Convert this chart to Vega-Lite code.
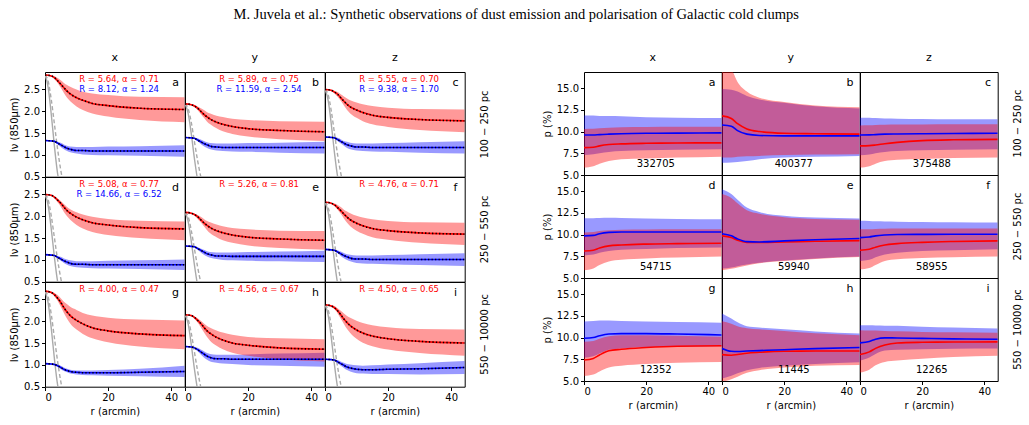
{
"$schema":"https://vega.github.io/schema/vega-lite/v6.json",
"padding":{"left":9,"top":6,"right":3,"bottom":5},
"background":"white",
"title":{"text":"M. Juvela et al.: Synthetic observations of dust emission and polarisation of Galactic cold clumps","font":"Liberation Serif","fontSize":14.5,"fontWeight":"normal","anchor":"middle","color":"black","offset":30},
"spacing":52,
"hconcat":[
{
"data":{"values":[
{"p":"a","s":"r","r":0,"m":2.83,"lo":2.82,"hi":2.84},{"p":"a","s":"r","r":2,"m":2.81,"lo":2.79,"hi":2.82},{"p":"a","s":"r","r":3,"m":2.77,"lo":2.73,"hi":2.80},{"p":"a","s":"r","r":4,"m":2.70,"lo":2.65,"hi":2.76},{"p":"a","s":"r","r":5,"m":2.62,"lo":2.54,"hi":2.71},{"p":"a","s":"r","r":6,"m":2.54,"lo":2.42,"hi":2.65},{"p":"a","s":"r","r":7,"m":2.46,"lo":2.31,"hi":2.60},{"p":"a","s":"r","r":8,"m":2.40,"lo":2.23,"hi":2.56},{"p":"a","s":"r","r":10,"m":2.31,"lo":2.11,"hi":2.50},{"p":"a","s":"r","r":12,"m":2.25,"lo":2.03,"hi":2.45},{"p":"a","s":"r","r":15,"m":2.18,"lo":1.95,"hi":2.41},{"p":"a","s":"r","r":20,"m":2.13,"lo":1.88,"hi":2.37},{"p":"a","s":"r","r":30,"m":2.07,"lo":1.80,"hi":2.33},{"p":"a","s":"r","r":44.3,"m":2.04,"lo":1.75,"hi":2.32},
{"p":"a","s":"b","r":0,"m":1.33,"lo":1.32,"hi":1.34},{"p":"a","s":"b","r":2,"m":1.32,"lo":1.31,"hi":1.34},{"p":"a","s":"b","r":3,"m":1.31,"lo":1.29,"hi":1.33},{"p":"a","s":"b","r":4,"m":1.27,"lo":1.24,"hi":1.30},{"p":"a","s":"b","r":5,"m":1.23,"lo":1.18,"hi":1.28},{"p":"a","s":"b","r":6,"m":1.19,"lo":1.13,"hi":1.24},{"p":"a","s":"b","r":7,"m":1.15,"lo":1.09,"hi":1.21},{"p":"a","s":"b","r":8,"m":1.13,"lo":1.06,"hi":1.19},{"p":"a","s":"b","r":10,"m":1.10,"lo":1.03,"hi":1.18},{"p":"a","s":"b","r":12,"m":1.10,"lo":1.01,"hi":1.18},{"p":"a","s":"b","r":15,"m":1.09,"lo":1.00,"hi":1.18},{"p":"a","s":"b","r":20,"m":1.09,"lo":0.99,"hi":1.19},{"p":"a","s":"b","r":30,"m":1.09,"lo":0.98,"hi":1.20},{"p":"a","s":"b","r":44.3,"m":1.09,"lo":0.96,"hi":1.22},
{"p":"b","s":"r","r":0,"m":2.17,"lo":2.17,"hi":2.17},{"p":"b","s":"r","r":2,"m":2.15,"lo":2.14,"hi":2.16},{"p":"b","s":"r","r":3,"m":2.12,"lo":2.09,"hi":2.15},{"p":"b","s":"r","r":4,"m":2.07,"lo":2.03,"hi":2.11},{"p":"b","s":"r","r":5,"m":2.00,"lo":1.94,"hi":2.07},{"p":"b","s":"r","r":6,"m":1.93,"lo":1.85,"hi":2.03},{"p":"b","s":"r","r":7,"m":1.87,"lo":1.76,"hi":1.98},{"p":"b","s":"r","r":8,"m":1.82,"lo":1.70,"hi":1.95},{"p":"b","s":"r","r":10,"m":1.75,"lo":1.61,"hi":1.90},{"p":"b","s":"r","r":12,"m":1.70,"lo":1.54,"hi":1.87},{"p":"b","s":"r","r":15,"m":1.65,"lo":1.48,"hi":1.83},{"p":"b","s":"r","r":20,"m":1.60,"lo":1.42,"hi":1.80},{"p":"b","s":"r","r":30,"m":1.56,"lo":1.36,"hi":1.77},{"p":"b","s":"r","r":44.3,"m":1.53,"lo":1.32,"hi":1.76},
{"p":"b","s":"b","r":0,"m":1.40,"lo":1.39,"hi":1.41},{"p":"b","s":"b","r":2,"m":1.39,"lo":1.38,"hi":1.41},{"p":"b","s":"b","r":3,"m":1.38,"lo":1.36,"hi":1.40},{"p":"b","s":"b","r":4,"m":1.34,"lo":1.31,"hi":1.38},{"p":"b","s":"b","r":5,"m":1.30,"lo":1.25,"hi":1.35},{"p":"b","s":"b","r":6,"m":1.26,"lo":1.20,"hi":1.32},{"p":"b","s":"b","r":7,"m":1.23,"lo":1.16,"hi":1.29},{"p":"b","s":"b","r":8,"m":1.20,"lo":1.13,"hi":1.27},{"p":"b","s":"b","r":10,"m":1.18,"lo":1.10,"hi":1.26},{"p":"b","s":"b","r":12,"m":1.17,"lo":1.09,"hi":1.26},{"p":"b","s":"b","r":15,"m":1.17,"lo":1.08,"hi":1.26},{"p":"b","s":"b","r":20,"m":1.17,"lo":1.07,"hi":1.27},{"p":"b","s":"b","r":30,"m":1.17,"lo":1.05,"hi":1.28},{"p":"b","s":"b","r":44.3,"m":1.17,"lo":1.03,"hi":1.30},
{"p":"c","s":"r","r":0,"m":2.50,"lo":2.49,"hi":2.51},{"p":"c","s":"r","r":2,"m":2.48,"lo":2.46,"hi":2.49},{"p":"c","s":"r","r":3,"m":2.44,"lo":2.41,"hi":2.47},{"p":"c","s":"r","r":4,"m":2.39,"lo":2.33,"hi":2.44},{"p":"c","s":"r","r":5,"m":2.31,"lo":2.24,"hi":2.39},{"p":"c","s":"r","r":6,"m":2.23,"lo":2.13,"hi":2.34},{"p":"c","s":"r","r":7,"m":2.16,"lo":2.03,"hi":2.29},{"p":"c","s":"r","r":8,"m":2.10,"lo":1.95,"hi":2.25},{"p":"c","s":"r","r":10,"m":2.03,"lo":1.85,"hi":2.20},{"p":"c","s":"r","r":12,"m":1.97,"lo":1.77,"hi":2.16},{"p":"c","s":"r","r":15,"m":1.91,"lo":1.70,"hi":2.12},{"p":"c","s":"r","r":20,"m":1.86,"lo":1.64,"hi":2.08},{"p":"c","s":"r","r":30,"m":1.81,"lo":1.57,"hi":2.05},{"p":"c","s":"r","r":44.3,"m":1.78,"lo":1.52,"hi":2.04},
{"p":"c","s":"b","r":0,"m":1.41,"lo":1.40,"hi":1.42},{"p":"c","s":"b","r":2,"m":1.40,"lo":1.39,"hi":1.42},{"p":"c","s":"b","r":3,"m":1.39,"lo":1.37,"hi":1.41},{"p":"c","s":"b","r":4,"m":1.35,"lo":1.32,"hi":1.39},{"p":"c","s":"b","r":5,"m":1.31,"lo":1.26,"hi":1.36},{"p":"c","s":"b","r":6,"m":1.27,"lo":1.21,"hi":1.32},{"p":"c","s":"b","r":7,"m":1.23,"lo":1.16,"hi":1.30},{"p":"c","s":"b","r":8,"m":1.21,"lo":1.13,"hi":1.28},{"p":"c","s":"b","r":10,"m":1.18,"lo":1.10,"hi":1.26},{"p":"c","s":"b","r":12,"m":1.18,"lo":1.09,"hi":1.26},{"p":"c","s":"b","r":15,"m":1.17,"lo":1.08,"hi":1.26},{"p":"c","s":"b","r":20,"m":1.17,"lo":1.07,"hi":1.27},{"p":"c","s":"b","r":30,"m":1.17,"lo":1.05,"hi":1.29},{"p":"c","s":"b","r":44.3,"m":1.17,"lo":1.03,"hi":1.31},
{"p":"d","s":"r","r":0,"m":2.50,"lo":2.49,"hi":2.50},{"p":"d","s":"r","r":2,"m":2.48,"lo":2.46,"hi":2.49},{"p":"d","s":"r","r":3,"m":2.44,"lo":2.41,"hi":2.46},{"p":"d","s":"r","r":4,"m":2.37,"lo":2.32,"hi":2.41},{"p":"d","s":"r","r":5,"m":2.30,"lo":2.22,"hi":2.35},{"p":"d","s":"r","r":6,"m":2.21,"lo":2.10,"hi":2.28},{"p":"d","s":"r","r":7,"m":2.13,"lo":2.00,"hi":2.21},{"p":"d","s":"r","r":8,"m":2.07,"lo":1.92,"hi":2.16},{"p":"d","s":"r","r":10,"m":1.98,"lo":1.80,"hi":2.09},{"p":"d","s":"r","r":12,"m":1.92,"lo":1.72,"hi":2.04},{"p":"d","s":"r","r":15,"m":1.85,"lo":1.64,"hi":1.99},{"p":"d","s":"r","r":20,"m":1.80,"lo":1.57,"hi":1.94},{"p":"d","s":"r","r":30,"m":1.74,"lo":1.50,"hi":1.90},{"p":"d","s":"r","r":44.3,"m":1.71,"lo":1.45,"hi":1.88},
{"p":"d","s":"b","r":0,"m":1.12,"lo":1.11,"hi":1.13},{"p":"d","s":"b","r":2,"m":1.11,"lo":1.10,"hi":1.13},{"p":"d","s":"b","r":3,"m":1.10,"lo":1.08,"hi":1.12},{"p":"d","s":"b","r":4,"m":1.06,"lo":1.03,"hi":1.09},{"p":"d","s":"b","r":5,"m":1.02,"lo":0.98,"hi":1.07},{"p":"d","s":"b","r":6,"m":0.98,"lo":0.93,"hi":1.03},{"p":"d","s":"b","r":7,"m":0.95,"lo":0.89,"hi":1.01},{"p":"d","s":"b","r":8,"m":0.92,"lo":0.86,"hi":0.99},{"p":"d","s":"b","r":10,"m":0.90,"lo":0.83,"hi":0.97},{"p":"d","s":"b","r":12,"m":0.90,"lo":0.82,"hi":0.97},{"p":"d","s":"b","r":15,"m":0.89,"lo":0.81,"hi":0.97},{"p":"d","s":"b","r":20,"m":0.89,"lo":0.80,"hi":0.98},{"p":"d","s":"b","r":30,"m":0.89,"lo":0.79,"hi":0.99},{"p":"d","s":"b","r":44.3,"m":0.89,"lo":0.77,"hi":1.01},
{"p":"e","s":"r","r":0,"m":2.09,"lo":2.09,"hi":2.09},{"p":"e","s":"r","r":2,"m":2.07,"lo":2.06,"hi":2.08},{"p":"e","s":"r","r":3,"m":2.04,"lo":2.01,"hi":2.06},{"p":"e","s":"r","r":4,"m":1.99,"lo":1.94,"hi":2.03},{"p":"e","s":"r","r":5,"m":1.92,"lo":1.86,"hi":1.99},{"p":"e","s":"r","r":6,"m":1.85,"lo":1.77,"hi":1.94},{"p":"e","s":"r","r":7,"m":1.79,"lo":1.68,"hi":1.89},{"p":"e","s":"r","r":8,"m":1.74,"lo":1.61,"hi":1.86},{"p":"e","s":"r","r":10,"m":1.67,"lo":1.52,"hi":1.81},{"p":"e","s":"r","r":12,"m":1.62,"lo":1.45,"hi":1.77},{"p":"e","s":"r","r":15,"m":1.57,"lo":1.39,"hi":1.73},{"p":"e","s":"r","r":20,"m":1.52,"lo":1.33,"hi":1.70},{"p":"e","s":"r","r":30,"m":1.48,"lo":1.27,"hi":1.67},{"p":"e","s":"r","r":44.3,"m":1.45,"lo":1.23,"hi":1.66},
{"p":"e","s":"b","r":0,"m":1.32,"lo":1.31,"hi":1.33},{"p":"e","s":"b","r":2,"m":1.31,"lo":1.30,"hi":1.33},{"p":"e","s":"b","r":3,"m":1.30,"lo":1.28,"hi":1.32},{"p":"e","s":"b","r":4,"m":1.26,"lo":1.23,"hi":1.29},{"p":"e","s":"b","r":5,"m":1.22,"lo":1.17,"hi":1.26},{"p":"e","s":"b","r":6,"m":1.18,"lo":1.12,"hi":1.23},{"p":"e","s":"b","r":7,"m":1.14,"lo":1.08,"hi":1.20},{"p":"e","s":"b","r":8,"m":1.12,"lo":1.05,"hi":1.18},{"p":"e","s":"b","r":10,"m":1.09,"lo":1.02,"hi":1.17},{"p":"e","s":"b","r":12,"m":1.09,"lo":1.00,"hi":1.17},{"p":"e","s":"b","r":15,"m":1.08,"lo":0.99,"hi":1.17},{"p":"e","s":"b","r":20,"m":1.08,"lo":0.98,"hi":1.18},{"p":"e","s":"b","r":30,"m":1.08,"lo":0.97,"hi":1.19},{"p":"e","s":"b","r":44.3,"m":1.08,"lo":0.95,"hi":1.21},
{"p":"f","s":"r","r":0,"m":2.32,"lo":2.32,"hi":2.33},{"p":"f","s":"r","r":2,"m":2.30,"lo":2.28,"hi":2.31},{"p":"f","s":"r","r":3,"m":2.26,"lo":2.23,"hi":2.29},{"p":"f","s":"r","r":4,"m":2.20,"lo":2.15,"hi":2.26},{"p":"f","s":"r","r":5,"m":2.13,"lo":2.06,"hi":2.21},{"p":"f","s":"r","r":6,"m":2.05,"lo":1.95,"hi":2.15},{"p":"f","s":"r","r":7,"m":1.98,"lo":1.85,"hi":2.11},{"p":"f","s":"r","r":8,"m":1.92,"lo":1.77,"hi":2.07},{"p":"f","s":"r","r":10,"m":1.84,"lo":1.67,"hi":2.01},{"p":"f","s":"r","r":12,"m":1.78,"lo":1.60,"hi":1.97},{"p":"f","s":"r","r":15,"m":1.72,"lo":1.52,"hi":1.93},{"p":"f","s":"r","r":20,"m":1.67,"lo":1.46,"hi":1.89},{"p":"f","s":"r","r":30,"m":1.62,"lo":1.39,"hi":1.86},{"p":"f","s":"r","r":44.3,"m":1.59,"lo":1.34,"hi":1.85},
{"p":"f","s":"b","r":0,"m":1.24,"lo":1.23,"hi":1.25},{"p":"f","s":"b","r":2,"m":1.23,"lo":1.22,"hi":1.25},{"p":"f","s":"b","r":3,"m":1.22,"lo":1.19,"hi":1.24},{"p":"f","s":"b","r":4,"m":1.18,"lo":1.15,"hi":1.22},{"p":"f","s":"b","r":5,"m":1.14,"lo":1.09,"hi":1.19},{"p":"f","s":"b","r":6,"m":1.10,"lo":1.04,"hi":1.16},{"p":"f","s":"b","r":7,"m":1.07,"lo":1.00,"hi":1.13},{"p":"f","s":"b","r":8,"m":1.04,"lo":0.97,"hi":1.12},{"p":"f","s":"b","r":10,"m":1.02,"lo":0.93,"hi":1.10},{"p":"f","s":"b","r":12,"m":1.02,"lo":0.92,"hi":1.10},{"p":"f","s":"b","r":15,"m":1.01,"lo":0.91,"hi":1.10},{"p":"f","s":"b","r":20,"m":1.01,"lo":0.90,"hi":1.11},{"p":"f","s":"b","r":30,"m":1.01,"lo":0.88,"hi":1.13},{"p":"f","s":"b","r":44.3,"m":1.01,"lo":0.86,"hi":1.15},
{"p":"g","s":"r","r":0,"m":2.69,"lo":2.68,"hi":2.70},{"p":"g","s":"r","r":2,"m":2.66,"lo":2.64,"hi":2.68},{"p":"g","s":"r","r":3,"m":2.61,"lo":2.57,"hi":2.65},{"p":"g","s":"r","r":4,"m":2.53,"lo":2.47,"hi":2.60},{"p":"g","s":"r","r":5,"m":2.43,"lo":2.33,"hi":2.53},{"p":"g","s":"r","r":6,"m":2.31,"lo":2.19,"hi":2.45},{"p":"g","s":"r","r":7,"m":2.21,"lo":2.06,"hi":2.39},{"p":"g","s":"r","r":8,"m":2.13,"lo":1.95,"hi":2.33},{"p":"g","s":"r","r":10,"m":2.02,"lo":1.81,"hi":2.26},{"p":"g","s":"r","r":12,"m":1.94,"lo":1.71,"hi":2.19},{"p":"g","s":"r","r":15,"m":1.85,"lo":1.61,"hi":2.13},{"p":"g","s":"r","r":20,"m":1.78,"lo":1.52,"hi":2.08},{"p":"g","s":"r","r":30,"m":1.71,"lo":1.42,"hi":2.04},{"p":"g","s":"r","r":44.3,"m":1.67,"lo":1.36,"hi":2.02},
{"p":"g","s":"b","r":0,"m":1.03,"lo":1.02,"hi":1.04},{"p":"g","s":"b","r":2,"m":1.02,"lo":1.01,"hi":1.03},{"p":"g","s":"b","r":3,"m":1.01,"lo":0.99,"hi":1.03},{"p":"g","s":"b","r":4,"m":0.98,"lo":0.95,"hi":1.01},{"p":"g","s":"b","r":5,"m":0.94,"lo":0.90,"hi":0.98},{"p":"g","s":"b","r":6,"m":0.90,"lo":0.86,"hi":0.94},{"p":"g","s":"b","r":7,"m":0.87,"lo":0.83,"hi":0.91},{"p":"g","s":"b","r":8,"m":0.85,"lo":0.80,"hi":0.89},{"p":"g","s":"b","r":10,"m":0.83,"lo":0.78,"hi":0.87},{"p":"g","s":"b","r":12,"m":0.82,"lo":0.77,"hi":0.87},{"p":"g","s":"b","r":15,"m":0.82,"lo":0.76,"hi":0.87},{"p":"g","s":"b","r":20,"m":0.82,"lo":0.75,"hi":0.88},{"p":"g","s":"b","r":30,"m":0.83,"lo":0.74,"hi":0.91},{"p":"g","s":"b","r":44.3,"m":0.85,"lo":0.72,"hi":0.98},
{"p":"h","s":"r","r":0,"m":2.15,"lo":2.14,"hi":2.15},{"p":"h","s":"r","r":2,"m":2.13,"lo":2.11,"hi":2.14},{"p":"h","s":"r","r":3,"m":2.09,"lo":2.05,"hi":2.11},{"p":"h","s":"r","r":4,"m":2.02,"lo":1.97,"hi":2.07},{"p":"h","s":"r","r":5,"m":1.95,"lo":1.86,"hi":2.01},{"p":"h","s":"r","r":6,"m":1.86,"lo":1.75,"hi":1.95},{"p":"h","s":"r","r":7,"m":1.78,"lo":1.64,"hi":1.89},{"p":"h","s":"r","r":8,"m":1.72,"lo":1.55,"hi":1.85},{"p":"h","s":"r","r":10,"m":1.63,"lo":1.44,"hi":1.79},{"p":"h","s":"r","r":12,"m":1.57,"lo":1.36,"hi":1.74},{"p":"h","s":"r","r":15,"m":1.50,"lo":1.28,"hi":1.69},{"p":"h","s":"r","r":20,"m":1.45,"lo":1.21,"hi":1.64},{"p":"h","s":"r","r":30,"m":1.39,"lo":1.13,"hi":1.61},{"p":"h","s":"r","r":44.3,"m":1.36,"lo":1.08,"hi":1.59},
{"p":"h","s":"b","r":0,"m":1.42,"lo":1.41,"hi":1.43},{"p":"h","s":"b","r":2,"m":1.41,"lo":1.39,"hi":1.43},{"p":"h","s":"b","r":3,"m":1.39,"lo":1.37,"hi":1.41},{"p":"h","s":"b","r":4,"m":1.35,"lo":1.31,"hi":1.39},{"p":"h","s":"b","r":5,"m":1.30,"lo":1.24,"hi":1.35},{"p":"h","s":"b","r":6,"m":1.25,"lo":1.17,"hi":1.31},{"p":"h","s":"b","r":7,"m":1.20,"lo":1.12,"hi":1.27},{"p":"h","s":"b","r":8,"m":1.17,"lo":1.08,"hi":1.25},{"p":"h","s":"b","r":10,"m":1.14,"lo":1.05,"hi":1.23},{"p":"h","s":"b","r":12,"m":1.14,"lo":1.03,"hi":1.23},{"p":"h","s":"b","r":15,"m":1.13,"lo":1.02,"hi":1.23},{"p":"h","s":"b","r":20,"m":1.13,"lo":1.00,"hi":1.24},{"p":"h","s":"b","r":30,"m":1.13,"lo":0.98,"hi":1.26},{"p":"h","s":"b","r":44.3,"m":1.13,"lo":0.96,"hi":1.28},
{"p":"i","s":"r","r":0,"m":2.38,"lo":2.37,"hi":2.39},{"p":"i","s":"r","r":2,"m":2.35,"lo":2.34,"hi":2.37},{"p":"i","s":"r","r":3,"m":2.31,"lo":2.28,"hi":2.35},{"p":"i","s":"r","r":4,"m":2.24,"lo":2.18,"hi":2.30},{"p":"i","s":"r","r":5,"m":2.15,"lo":2.06,"hi":2.24},{"p":"i","s":"r","r":6,"m":2.05,"lo":1.94,"hi":2.18},{"p":"i","s":"r","r":7,"m":1.97,"lo":1.82,"hi":2.12},{"p":"i","s":"r","r":8,"m":1.90,"lo":1.73,"hi":2.08},{"p":"i","s":"r","r":10,"m":1.80,"lo":1.60,"hi":2.01},{"p":"i","s":"r","r":12,"m":1.73,"lo":1.51,"hi":1.96},{"p":"i","s":"r","r":15,"m":1.66,"lo":1.43,"hi":1.91},{"p":"i","s":"r","r":20,"m":1.60,"lo":1.35,"hi":1.86},{"p":"i","s":"r","r":30,"m":1.54,"lo":1.27,"hi":1.82},{"p":"i","s":"r","r":44.3,"m":1.50,"lo":1.21,"hi":1.81},
{"p":"i","s":"b","r":0,"m":1.13,"lo":1.12,"hi":1.14},{"p":"i","s":"b","r":2,"m":1.12,"lo":1.11,"hi":1.14},{"p":"i","s":"b","r":3,"m":1.11,"lo":1.09,"hi":1.13},{"p":"i","s":"b","r":4,"m":1.07,"lo":1.03,"hi":1.11},{"p":"i","s":"b","r":5,"m":1.03,"lo":0.98,"hi":1.08},{"p":"i","s":"b","r":6,"m":0.99,"lo":0.93,"hi":1.05},{"p":"i","s":"b","r":7,"m":0.95,"lo":0.88,"hi":1.02},{"p":"i","s":"b","r":8,"m":0.93,"lo":0.85,"hi":1.01},{"p":"i","s":"b","r":10,"m":0.90,"lo":0.81,"hi":0.99},{"p":"i","s":"b","r":12,"m":0.89,"lo":0.80,"hi":0.98},{"p":"i","s":"b","r":15,"m":0.89,"lo":0.79,"hi":0.99},{"p":"i","s":"b","r":20,"m":0.90,"lo":0.79,"hi":1.01},{"p":"i","s":"b","r":30,"m":0.91,"lo":0.78,"hi":1.04},{"p":"i","s":"b","r":44.3,"m":0.94,"lo":0.79,"hi":1.09},
{"p":"a","s":"g1","r":0,"m":2.83},{"p":"a","s":"g1","r":1,"m":2.55},{"p":"a","s":"g1","r":2,"m":1.92},{"p":"a","s":"g1","r":3,"m":1.19},{"p":"a","s":"g1","r":4,"m":0.57},{"p":"a","s":"g1","r":5,"m":0.23},
{"p":"b","s":"g1","r":0,"m":2.17},{"p":"b","s":"g1","r":1,"m":1.95},{"p":"b","s":"g1","r":2,"m":1.48},{"p":"b","s":"g1","r":3,"m":0.91},{"p":"b","s":"g1","r":4,"m":0.43},{"p":"b","s":"g1","r":5,"m":0.17},
{"p":"c","s":"g1","r":0,"m":2.50},{"p":"c","s":"g1","r":1,"m":2.25},{"p":"c","s":"g1","r":2,"m":1.70},{"p":"c","s":"g1","r":3,"m":1.05},{"p":"c","s":"g1","r":4,"m":0.50},{"p":"c","s":"g1","r":5,"m":0.20},
{"p":"d","s":"g1","r":0,"m":2.50},{"p":"d","s":"g1","r":1,"m":2.25},{"p":"d","s":"g1","r":2,"m":1.70},{"p":"d","s":"g1","r":3,"m":1.05},{"p":"d","s":"g1","r":4,"m":0.50},{"p":"d","s":"g1","r":5,"m":0.20},
{"p":"e","s":"g1","r":0,"m":2.09},{"p":"e","s":"g1","r":1,"m":1.88},{"p":"e","s":"g1","r":2,"m":1.42},{"p":"e","s":"g1","r":3,"m":0.88},{"p":"e","s":"g1","r":4,"m":0.42},{"p":"e","s":"g1","r":5,"m":0.17},
{"p":"f","s":"g1","r":0,"m":2.32},{"p":"f","s":"g1","r":1,"m":2.09},{"p":"f","s":"g1","r":2,"m":1.58},{"p":"f","s":"g1","r":3,"m":0.97},{"p":"f","s":"g1","r":4,"m":0.46},{"p":"f","s":"g1","r":5,"m":0.19},
{"p":"g","s":"g1","r":0,"m":2.69},{"p":"g","s":"g1","r":1,"m":2.42},{"p":"g","s":"g1","r":2,"m":1.83},{"p":"g","s":"g1","r":3,"m":1.13},{"p":"g","s":"g1","r":4,"m":0.54},{"p":"g","s":"g1","r":5,"m":0.22},
{"p":"h","s":"g1","r":0,"m":2.15},{"p":"h","s":"g1","r":1,"m":1.94},{"p":"h","s":"g1","r":2,"m":1.46},{"p":"h","s":"g1","r":3,"m":0.90},{"p":"h","s":"g1","r":4,"m":0.43},{"p":"h","s":"g1","r":5,"m":0.17},
{"p":"i","s":"g1","r":0,"m":2.38},{"p":"i","s":"g1","r":1,"m":2.14},{"p":"i","s":"g1","r":2,"m":1.62},{"p":"i","s":"g1","r":3,"m":1.00},{"p":"i","s":"g1","r":4,"m":0.48},{"p":"i","s":"g1","r":5,"m":0.19},
{"p":"a","s":"g2","r":0,"m":2.83},{"p":"a","s":"g2","r":1,"m":2.69},{"p":"a","s":"g2","r":2,"m":2.26},{"p":"a","s":"g2","r":3,"m":1.70},{"p":"a","s":"g2","r":4,"m":1.13},{"p":"a","s":"g2","r":5,"m":0.65},{"p":"a","s":"g2","r":6,"m":0.28},
{"p":"b","s":"g2","r":0,"m":2.17},{"p":"b","s":"g2","r":1,"m":2.06},{"p":"b","s":"g2","r":2,"m":1.74},{"p":"b","s":"g2","r":3,"m":1.30},{"p":"b","s":"g2","r":4,"m":0.87},{"p":"b","s":"g2","r":5,"m":0.50},{"p":"b","s":"g2","r":6,"m":0.22},
{"p":"c","s":"g2","r":0,"m":2.50},{"p":"c","s":"g2","r":1,"m":2.38},{"p":"c","s":"g2","r":2,"m":2.00},{"p":"c","s":"g2","r":3,"m":1.50},{"p":"c","s":"g2","r":4,"m":1.00},{"p":"c","s":"g2","r":5,"m":0.58},{"p":"c","s":"g2","r":6,"m":0.25},
{"p":"d","s":"g2","r":0,"m":2.50},{"p":"d","s":"g2","r":1,"m":2.38},{"p":"d","s":"g2","r":2,"m":2.00},{"p":"d","s":"g2","r":3,"m":1.50},{"p":"d","s":"g2","r":4,"m":1.00},{"p":"d","s":"g2","r":5,"m":0.58},{"p":"d","s":"g2","r":6,"m":0.25},
{"p":"e","s":"g2","r":0,"m":2.09},{"p":"e","s":"g2","r":1,"m":1.99},{"p":"e","s":"g2","r":2,"m":1.67},{"p":"e","s":"g2","r":3,"m":1.25},{"p":"e","s":"g2","r":4,"m":0.84},{"p":"e","s":"g2","r":5,"m":0.48},{"p":"e","s":"g2","r":6,"m":0.21},
{"p":"f","s":"g2","r":0,"m":2.32},{"p":"f","s":"g2","r":1,"m":2.20},{"p":"f","s":"g2","r":2,"m":1.86},{"p":"f","s":"g2","r":3,"m":1.39},{"p":"f","s":"g2","r":4,"m":0.93},{"p":"f","s":"g2","r":5,"m":0.53},{"p":"f","s":"g2","r":6,"m":0.23},
{"p":"g","s":"g2","r":0,"m":2.69},{"p":"g","s":"g2","r":1,"m":2.56},{"p":"g","s":"g2","r":2,"m":2.15},{"p":"g","s":"g2","r":3,"m":1.61},{"p":"g","s":"g2","r":4,"m":1.08},{"p":"g","s":"g2","r":5,"m":0.62},{"p":"g","s":"g2","r":6,"m":0.27},
{"p":"h","s":"g2","r":0,"m":2.15},{"p":"h","s":"g2","r":1,"m":2.04},{"p":"h","s":"g2","r":2,"m":1.72},{"p":"h","s":"g2","r":3,"m":1.29},{"p":"h","s":"g2","r":4,"m":0.86},{"p":"h","s":"g2","r":5,"m":0.49},{"p":"h","s":"g2","r":6,"m":0.22},
{"p":"i","s":"g2","r":0,"m":2.38},{"p":"i","s":"g2","r":1,"m":2.26},{"p":"i","s":"g2","r":2,"m":1.90},{"p":"i","s":"g2","r":3,"m":1.43},{"p":"i","s":"g2","r":4,"m":0.95},{"p":"i","s":"g2","r":5,"m":0.55},{"p":"i","s":"g2","r":6,"m":0.24},
{"p":"a","s":"t","r":23.5,"m":2.73,"txt":"R = 5.64, α = 0.71","tc":"#ff0000"},{"p":"a","s":"t","r":23.5,"m":2.50,"txt":"R = 8.12, α = 1.24","tc":"#0000ff"},
{"p":"b","s":"t","r":23.5,"m":2.73,"txt":"R = 5.89, α = 0.75","tc":"#ff0000"},{"p":"b","s":"t","r":23.5,"m":2.50,"txt":"R = 11.59, α = 2.54","tc":"#0000ff"},
{"p":"c","s":"t","r":23.5,"m":2.73,"txt":"R = 5.55, α = 0.70","tc":"#ff0000"},{"p":"c","s":"t","r":23.5,"m":2.50,"txt":"R = 9.38, α = 1.70","tc":"#0000ff"},
{"p":"d","s":"t","r":23.5,"m":2.73,"txt":"R = 5.08, α = 0.77","tc":"#ff0000"},{"p":"d","s":"t","r":23.5,"m":2.50,"txt":"R = 14.66, α = 6.52","tc":"#0000ff"},
{"p":"e","s":"t","r":23.5,"m":2.73,"txt":"R = 5.26, α = 0.81","tc":"#ff0000"},
{"p":"f","s":"t","r":23.5,"m":2.73,"txt":"R = 4.76, α = 0.71","tc":"#ff0000"},
{"p":"g","s":"t","r":23.5,"m":2.73,"txt":"R = 4.00, α = 0.47","tc":"#ff0000"},
{"p":"h","s":"t","r":23.5,"m":2.73,"txt":"R = 4.56, α = 0.67","tc":"#ff0000"},
{"p":"i","s":"t","r":23.5,"m":2.73,"txt":"R = 4.50, α = 0.65","tc":"#ff0000"},
{"p":"a","s":"L","r":41.4,"m":2.65,"txt":"a"},{"p":"b","s":"L","r":41.4,"m":2.65,"txt":"b"},{"p":"c","s":"L","r":41.4,"m":2.65,"txt":"c"},{"p":"d","s":"L","r":41.4,"m":2.65,"txt":"d"},{"p":"e","s":"L","r":41.4,"m":2.65,"txt":"e"},{"p":"f","s":"L","r":41.4,"m":2.65,"txt":"f"},{"p":"g","s":"L","r":41.4,"m":2.65,"txt":"g"},{"p":"h","s":"L","r":41.4,"m":2.65,"txt":"h"},{"p":"i","s":"L","r":41.4,"m":2.65,"txt":"i"}
]},
"transform":[{"lookup":"p","from":{"data":{"values":[{"p":"a","c":"x","w":"100 − 250 pc"},{"p":"b","c":"y","w":"100 − 250 pc"},{"p":"c","c":"z","w":"100 − 250 pc"},{"p":"d","c":"x","w":"250 − 550 pc"},{"p":"e","c":"y","w":"250 − 550 pc"},{"p":"f","c":"z","w":"250 − 550 pc"},{"p":"g","c":"x","w":"550 − 10000 pc"},{"p":"h","c":"y","w":"550 − 10000 pc"},{"p":"i","c":"z","w":"550 − 10000 pc"}]},"key":"p","fields":["c","w"]}}],
"facet":{
"column":{"field":"c","type":"nominal","title":null,"header":{"labelFontSize":11,"labelPadding":9}},
"row":{"field":"w","type":"nominal","title":null,"header":{"labelOrient":"right","labelAngle":-90,"labelFontSize":10,"labelPadding":10}}
},
"spacing":{"row":0,"column":0},
"bounds":"flush",
"spec":{
"width":139.7,"height":104.7,
"encoding":{
"x":{"field":"r","type":"quantitative","scale":{"domain":[0,44.3],"nice":false,"zero":false},"axis":{"values":[0,20,40],"title":"r (arcmin)"}},
"y":{"field":"m","type":"quantitative","scale":{"domain":[0.5,2.9],"nice":false,"zero":false},"axis":{"values":[0.5,1,1.5,2,2.5],"format":".1f","title":"Iν (850μm)"}}
},
"layer":[
{"transform":[{"filter":"datum.s == 'b'"}],"mark":{"type":"area","color":"#0000ff","opacity":0.4,"interpolate":"monotone","clip":true},"encoding":{"y":{"field":"lo","type":"quantitative","scale":{"domain":[0.5,2.9],"nice":false,"zero":false},"axis":{"values":[0.5,1,1.5,2,2.5],"format":".1f","title":"Iν (850μm)"}},"y2":{"field":"hi"}}},
{"transform":[{"filter":"datum.s == 'r'"}],"mark":{"type":"area","color":"#ff0000","opacity":0.4,"interpolate":"monotone","clip":true},"encoding":{"y":{"field":"lo","type":"quantitative","scale":{"domain":[0.5,2.9],"nice":false,"zero":false},"axis":{"values":[0.5,1,1.5,2,2.5],"format":".1f","title":"Iν (850μm)"}},"y2":{"field":"hi"}}},
{"transform":[{"filter":"datum.s == 'g1'"}],"mark":{"type":"line","color":"#aaaaaa","strokeWidth":1.4,"interpolate":"monotone","clip":true},"encoding":{}},
{"transform":[{"filter":"datum.s == 'g2'"}],"mark":{"type":"line","color":"#aaaaaa","strokeWidth":1.4,"strokeDash":[4,2.5],"interpolate":"monotone","clip":true},"encoding":{}},
{"transform":[{"filter":"datum.s == 'r' || datum.s == 'b'"}],"mark":{"type":"line","strokeWidth":1.6,"interpolate":"monotone","clip":true},"encoding":{"color":{"field":"s","type":"nominal","scale":{"domain":["r","b"],"range":["#ff0000","#0000ff"]},"legend":null}}},
{"transform":[{"filter":"datum.s == 'r' || datum.s == 'b'"}],"mark":{"type":"line","color":"black","strokeWidth":1.6,"strokeDash":[1.3,2.2],"interpolate":"monotone","clip":true},"encoding":{"detail":{"field":"s","type":"nominal"}}},
{"transform":[{"filter":"datum.s == 't'"}],"mark":{"type":"text","fontSize":8.5,"align":"center","baseline":"middle"},"encoding":{"text":{"field":"txt"},"color":{"field":"tc","type":"nominal","scale":null}}},
{"transform":[{"filter":"datum.s == 'L'"}],"mark":{"type":"text","fontSize":11,"align":"center","baseline":"middle","color":"black"},"encoding":{"text":{"field":"txt"}}}
]
}
},
{
"data":{"values":[
{"p":"a","s":"r","r":0,"m":8.15,"lo":5.85,"hi":10.3},{"p":"a","s":"r","r":3,"m":8.2,"lo":6.0,"hi":10.32},{"p":"a","s":"r","r":5,"m":8.35,"lo":6.3,"hi":10.38},{"p":"a","s":"r","r":8,"m":8.5,"lo":6.6,"hi":10.45},{"p":"a","s":"r","r":12,"m":8.58,"lo":6.8,"hi":10.5},{"p":"a","s":"r","r":20,"m":8.65,"lo":6.9,"hi":10.52},{"p":"a","s":"r","r":30,"m":8.68,"lo":7.0,"hi":10.55},{"p":"a","s":"r","r":44.3,"m":8.7,"lo":7.1,"hi":10.55},
{"p":"a","s":"b","r":0,"m":9.6,"lo":7.3,"hi":11.85},{"p":"a","s":"b","r":3,"m":9.6,"lo":7.4,"hi":11.85},{"p":"a","s":"b","r":5,"m":9.65,"lo":7.5,"hi":11.8},{"p":"a","s":"b","r":8,"m":9.7,"lo":7.65,"hi":11.78},{"p":"a","s":"b","r":12,"m":9.75,"lo":7.75,"hi":11.75},{"p":"a","s":"b","r":20,"m":9.8,"lo":7.85,"hi":11.65},{"p":"a","s":"b","r":30,"m":9.82,"lo":7.9,"hi":11.6},{"p":"a","s":"b","r":44.3,"m":9.85,"lo":7.95,"hi":11.55},
{"p":"b","s":"r","r":0,"m":11.8,"lo":7.0,"hi":18.0},{"p":"b","s":"r","r":3,"m":11.5,"lo":7.0,"hi":17.2},{"p":"b","s":"r","r":5,"m":10.9,"lo":7.1,"hi":15.7},{"p":"b","s":"r","r":8,"m":10.3,"lo":7.15,"hi":14.6},{"p":"b","s":"r","r":12,"m":10.0,"lo":7.2,"hi":13.9},{"p":"b","s":"r","r":20,"m":9.8,"lo":7.3,"hi":13.4},{"p":"b","s":"r","r":30,"m":9.75,"lo":7.35,"hi":13.0},{"p":"b","s":"r","r":44.3,"m":9.7,"lo":7.4,"hi":12.8},
{"p":"b","s":"b","r":0,"m":10.75,"lo":6.4,"hi":14.9},{"p":"b","s":"b","r":3,"m":10.6,"lo":6.45,"hi":14.8},{"p":"b","s":"b","r":5,"m":10.1,"lo":6.5,"hi":14.6},{"p":"b","s":"b","r":8,"m":9.7,"lo":6.6,"hi":14.1},{"p":"b","s":"b","r":12,"m":9.55,"lo":6.8,"hi":13.7},{"p":"b","s":"b","r":20,"m":9.5,"lo":7.0,"hi":13.3},{"p":"b","s":"b","r":30,"m":9.5,"lo":7.1,"hi":12.9},{"p":"b","s":"b","r":44.3,"m":9.5,"lo":7.2,"hi":12.65},
{"p":"c","s":"r","r":0,"m":8.35,"lo":5.85,"hi":10.7},{"p":"c","s":"r","r":3,"m":8.38,"lo":6.0,"hi":10.72},{"p":"c","s":"r","r":5,"m":8.45,"lo":6.3,"hi":10.75},{"p":"c","s":"r","r":8,"m":8.6,"lo":6.6,"hi":10.78},{"p":"c","s":"r","r":12,"m":8.75,"lo":6.75,"hi":10.8},{"p":"c","s":"r","r":20,"m":8.95,"lo":6.85,"hi":10.82},{"p":"c","s":"r","r":30,"m":9.05,"lo":6.95,"hi":10.84},{"p":"c","s":"r","r":44.3,"m":9.1,"lo":7.0,"hi":10.85},
{"p":"c","s":"b","r":0,"m":9.6,"lo":7.27,"hi":11.6},{"p":"c","s":"b","r":3,"m":9.62,"lo":7.35,"hi":11.6},{"p":"c","s":"b","r":5,"m":9.65,"lo":7.5,"hi":11.55},{"p":"c","s":"b","r":8,"m":9.7,"lo":7.65,"hi":11.5},{"p":"c","s":"b","r":12,"m":9.72,"lo":7.75,"hi":11.48},{"p":"c","s":"b","r":20,"m":9.75,"lo":7.85,"hi":11.45},{"p":"c","s":"b","r":30,"m":9.78,"lo":7.9,"hi":11.42},{"p":"c","s":"b","r":44.3,"m":9.8,"lo":7.95,"hi":11.4},
{"p":"d","s":"r","r":0,"m":8.1,"lo":5.9,"hi":10.23},{"p":"d","s":"r","r":3,"m":8.2,"lo":6.1,"hi":10.28},{"p":"d","s":"r","r":5,"m":8.45,"lo":6.5,"hi":10.4},{"p":"d","s":"r","r":8,"m":8.7,"lo":6.9,"hi":10.5},{"p":"d","s":"r","r":12,"m":8.8,"lo":7.1,"hi":10.55},{"p":"d","s":"r","r":20,"m":8.9,"lo":7.25,"hi":10.58},{"p":"d","s":"r","r":30,"m":8.95,"lo":7.35,"hi":10.6},{"p":"d","s":"r","r":44.3,"m":9.0,"lo":7.46,"hi":10.6},
{"p":"d","s":"b","r":0,"m":9.85,"lo":7.6,"hi":11.88},{"p":"d","s":"b","r":3,"m":9.9,"lo":7.7,"hi":11.88},{"p":"d","s":"b","r":5,"m":10.1,"lo":7.9,"hi":11.9},{"p":"d","s":"b","r":8,"m":10.25,"lo":8.1,"hi":11.92},{"p":"d","s":"b","r":12,"m":10.3,"lo":8.25,"hi":11.9},{"p":"d","s":"b","r":20,"m":10.3,"lo":8.35,"hi":11.85},{"p":"d","s":"b","r":30,"m":10.3,"lo":8.45,"hi":11.8},{"p":"d","s":"b","r":44.3,"m":10.3,"lo":8.5,"hi":11.77},
{"p":"e","s":"r","r":0,"m":9.85,"lo":5.9,"hi":14.65},{"p":"e","s":"r","r":3,"m":9.65,"lo":6.05,"hi":14.2},{"p":"e","s":"r","r":5,"m":9.35,"lo":6.2,"hi":13.6},{"p":"e","s":"r","r":8,"m":9.1,"lo":6.45,"hi":12.8},{"p":"e","s":"r","r":12,"m":9.08,"lo":6.7,"hi":12.4},{"p":"e","s":"r","r":20,"m":9.15,"lo":6.95,"hi":12.0},{"p":"e","s":"r","r":30,"m":9.22,"lo":7.2,"hi":11.8},{"p":"e","s":"r","r":44.3,"m":9.3,"lo":7.42,"hi":11.7},
{"p":"e","s":"b","r":0,"m":10.1,"lo":6.08,"hi":15.2},{"p":"e","s":"b","r":3,"m":9.85,"lo":6.2,"hi":14.65},{"p":"e","s":"b","r":5,"m":9.5,"lo":6.35,"hi":14.0},{"p":"e","s":"b","r":8,"m":9.18,"lo":6.55,"hi":13.1},{"p":"e","s":"b","r":12,"m":9.15,"lo":6.75,"hi":12.6},{"p":"e","s":"b","r":20,"m":9.27,"lo":7.0,"hi":12.15},{"p":"e","s":"b","r":30,"m":9.4,"lo":7.25,"hi":11.95},{"p":"e","s":"b","r":44.3,"m":9.54,"lo":7.46,"hi":11.85},
{"p":"f","s":"r","r":0,"m":8.2,"lo":6.0,"hi":10.6},{"p":"f","s":"r","r":3,"m":8.3,"lo":6.15,"hi":10.62},{"p":"f","s":"r","r":5,"m":8.55,"lo":6.5,"hi":10.65},{"p":"f","s":"r","r":8,"m":8.8,"lo":6.96,"hi":10.68},{"p":"f","s":"r","r":12,"m":8.95,"lo":7.15,"hi":10.7},{"p":"f","s":"r","r":20,"m":9.1,"lo":7.3,"hi":10.7},{"p":"f","s":"r","r":30,"m":9.2,"lo":7.4,"hi":10.7},{"p":"f","s":"r","r":44.3,"m":9.27,"lo":7.46,"hi":10.7},
{"p":"f","s":"b","r":0,"m":9.65,"lo":6.96,"hi":11.58},{"p":"f","s":"b","r":3,"m":9.72,"lo":7.1,"hi":11.55},{"p":"f","s":"b","r":5,"m":9.85,"lo":7.4,"hi":11.52},{"p":"f","s":"b","r":8,"m":9.95,"lo":7.7,"hi":11.5},{"p":"f","s":"b","r":12,"m":10.0,"lo":7.9,"hi":11.48},{"p":"f","s":"b","r":20,"m":10.02,"lo":8.1,"hi":11.45},{"p":"f","s":"b","r":30,"m":10.03,"lo":8.2,"hi":11.42},{"p":"f","s":"b","r":44.3,"m":10.04,"lo":8.3,"hi":11.38},
{"p":"g","s":"r","r":0,"m":7.42,"lo":5.58,"hi":9.53},{"p":"g","s":"r","r":3,"m":7.6,"lo":5.75,"hi":9.6},{"p":"g","s":"r","r":5,"m":8.0,"lo":6.1,"hi":9.85},{"p":"g","s":"r","r":8,"m":8.47,"lo":6.55,"hi":10.15},{"p":"g","s":"r","r":12,"m":8.65,"lo":6.75,"hi":10.25},{"p":"g","s":"r","r":20,"m":8.85,"lo":6.95,"hi":10.25},{"p":"g","s":"r","r":30,"m":9.0,"lo":7.1,"hi":10.2},{"p":"g","s":"r","r":44.3,"m":9.05,"lo":7.2,"hi":10.1},
{"p":"g","s":"b","r":0,"m":9.92,"lo":7.7,"hi":11.85},{"p":"g","s":"b","r":3,"m":10.0,"lo":7.85,"hi":11.9},{"p":"g","s":"b","r":5,"m":10.2,"lo":8.15,"hi":11.95},{"p":"g","s":"b","r":8,"m":10.4,"lo":8.6,"hi":11.95},{"p":"g","s":"b","r":12,"m":10.45,"lo":8.75,"hi":11.9},{"p":"g","s":"b","r":20,"m":10.45,"lo":8.9,"hi":11.85},{"p":"g","s":"b","r":30,"m":10.4,"lo":8.95,"hi":11.78},{"p":"g","s":"b","r":44.3,"m":10.3,"lo":9.0,"hi":11.7},
{"p":"h","s":"r","r":0,"m":8.04,"lo":4.9,"hi":11.88},{"p":"h","s":"r","r":3,"m":7.96,"lo":5.2,"hi":11.6},{"p":"h","s":"r","r":5,"m":8.05,"lo":5.5,"hi":11.3},{"p":"h","s":"r","r":8,"m":8.2,"lo":5.95,"hi":11.08},{"p":"h","s":"r","r":12,"m":8.3,"lo":6.25,"hi":10.95},{"p":"h","s":"r","r":20,"m":8.42,"lo":6.55,"hi":10.75},{"p":"h","s":"r","r":30,"m":8.45,"lo":6.75,"hi":10.5},{"p":"h","s":"r","r":44.3,"m":8.46,"lo":6.85,"hi":10.27},
{"p":"h","s":"b","r":0,"m":8.73,"lo":5.3,"hi":12.77},{"p":"h","s":"b","r":3,"m":8.42,"lo":5.6,"hi":12.2},{"p":"h","s":"b","r":5,"m":8.4,"lo":5.9,"hi":11.75},{"p":"h","s":"b","r":8,"m":8.45,"lo":6.25,"hi":11.3},{"p":"h","s":"b","r":12,"m":8.5,"lo":6.5,"hi":11.15},{"p":"h","s":"b","r":20,"m":8.6,"lo":6.75,"hi":10.95},{"p":"h","s":"b","r":30,"m":8.72,"lo":6.95,"hi":10.7},{"p":"h","s":"b","r":44.3,"m":8.85,"lo":7.15,"hi":10.46},
{"p":"i","s":"r","r":0,"m":8.04,"lo":5.97,"hi":10.85},{"p":"i","s":"r","r":3,"m":8.35,"lo":6.3,"hi":10.82},{"p":"i","s":"r","r":5,"m":8.75,"lo":6.8,"hi":10.8},{"p":"i","s":"r","r":8,"m":9.15,"lo":7.2,"hi":10.76},{"p":"i","s":"r","r":12,"m":9.38,"lo":7.35,"hi":10.73},{"p":"i","s":"r","r":20,"m":9.45,"lo":7.55,"hi":10.65},{"p":"i","s":"r","r":30,"m":9.48,"lo":7.75,"hi":10.6},{"p":"i","s":"r","r":44.3,"m":9.5,"lo":7.9,"hi":10.54},
{"p":"i","s":"b","r":0,"m":9.38,"lo":7.35,"hi":11.42},{"p":"i","s":"b","r":3,"m":9.55,"lo":7.7,"hi":11.4},{"p":"i","s":"b","r":5,"m":9.8,"lo":8.1,"hi":11.38},{"p":"i","s":"b","r":8,"m":9.96,"lo":8.5,"hi":11.36},{"p":"i","s":"b","r":12,"m":9.95,"lo":8.6,"hi":11.35},{"p":"i","s":"b","r":20,"m":9.9,"lo":8.65,"hi":11.25},{"p":"i","s":"b","r":30,"m":9.85,"lo":8.7,"hi":11.15},{"p":"i","s":"b","r":44.3,"m":9.8,"lo":8.73,"hi":11.04},
{"p":"a","s":"t","r":23.1,"m":6.3,"txt":"332705"},{"p":"b","s":"t","r":23.1,"m":6.3,"txt":"400377"},{"p":"c","s":"t","r":23.1,"m":6.3,"txt":"375488"},{"p":"d","s":"t","r":23.1,"m":6.3,"txt":"54715"},{"p":"e","s":"t","r":23.1,"m":6.3,"txt":"59940"},{"p":"f","s":"t","r":23.1,"m":6.3,"txt":"58955"},{"p":"g","s":"t","r":23.1,"m":6.3,"txt":"12352"},{"p":"h","s":"t","r":23.1,"m":6.3,"txt":"11445"},{"p":"i","s":"t","r":23.1,"m":6.3,"txt":"12265"},
{"p":"a","s":"L","r":41.2,"m":15.6,"txt":"a"},{"p":"b","s":"L","r":41.2,"m":15.6,"txt":"b"},{"p":"c","s":"L","r":41.2,"m":15.6,"txt":"c"},{"p":"d","s":"L","r":41.2,"m":15.6,"txt":"d"},{"p":"e","s":"L","r":41.2,"m":15.6,"txt":"e"},{"p":"f","s":"L","r":41.2,"m":15.6,"txt":"f"},{"p":"g","s":"L","r":41.2,"m":15.6,"txt":"g"},{"p":"h","s":"L","r":41.2,"m":15.6,"txt":"h"},{"p":"i","s":"L","r":41.2,"m":15.6,"txt":"i"}
]},
"transform":[{"lookup":"p","from":{"data":{"values":[{"p":"a","c":"x","w":"100 − 250 pc"},{"p":"b","c":"y","w":"100 − 250 pc"},{"p":"c","c":"z","w":"100 − 250 pc"},{"p":"d","c":"x","w":"250 − 550 pc"},{"p":"e","c":"y","w":"250 − 550 pc"},{"p":"f","c":"z","w":"250 − 550 pc"},{"p":"g","c":"x","w":"550 − 10000 pc"},{"p":"h","c":"y","w":"550 − 10000 pc"},{"p":"i","c":"z","w":"550 − 10000 pc"}]},"key":"p","fields":["c","w"]}}],
"facet":{
"column":{"field":"c","type":"nominal","title":null,"header":{"labelFontSize":11,"labelPadding":9}},
"row":{"field":"w","type":"nominal","title":null,"header":{"labelOrient":"right","labelAngle":-90,"labelFontSize":10,"labelPadding":10}}
},
"spacing":{"row":0,"column":0},
"bounds":"flush",
"spec":{
"width":137.7,"height":103,
"encoding":{
"x":{"field":"r","type":"quantitative","scale":{"domain":[0,44.3],"nice":false,"zero":false},"axis":{"values":[0,20,40],"title":"r (arcmin)"}},
"y":{"field":"m","type":"quantitative","scale":{"domain":[5,16.85],"nice":false,"zero":false},"axis":{"values":[5,7.5,10,12.5,15],"format":".1f","title":"p (%)"}}
},
"layer":[
{"transform":[{"filter":"datum.s == 'b'"}],"mark":{"type":"area","color":"#0000ff","opacity":0.4,"interpolate":"monotone","clip":true},"encoding":{"y":{"field":"lo","type":"quantitative","scale":{"domain":[5,16.85],"nice":false,"zero":false},"axis":{"values":[5,7.5,10,12.5,15],"format":".1f","title":"p (%)"}},"y2":{"field":"hi"}}},
{"transform":[{"filter":"datum.s == 'r'"}],"mark":{"type":"area","color":"#ff0000","opacity":0.4,"interpolate":"monotone","clip":true},"encoding":{"y":{"field":"lo","type":"quantitative","scale":{"domain":[5,16.85],"nice":false,"zero":false},"axis":{"values":[5,7.5,10,12.5,15],"format":".1f","title":"p (%)"}},"y2":{"field":"hi"}}},
{"transform":[{"filter":"datum.s == 'r' || datum.s == 'b'"}],"mark":{"type":"line","strokeWidth":1.6,"interpolate":"monotone","clip":true},"encoding":{"color":{"field":"s","type":"nominal","scale":{"domain":["r","b"],"range":["#ff0000","#0000ff"]},"legend":null}}},
{"transform":[{"filter":"datum.s == 't'"}],"mark":{"type":"text","fontSize":10,"align":"center","baseline":"middle","color":"black"},"encoding":{"text":{"field":"txt"}}},
{"transform":[{"filter":"datum.s == 'L'"}],"mark":{"type":"text","fontSize":11,"align":"center","baseline":"middle","color":"black"},"encoding":{"text":{"field":"txt"}}}
]
}
}
],
"config":{
"font":"DejaVu Sans",
"view":{"stroke":"black","strokeWidth":1},
"axis":{"grid":false,"domain":false,"tickColor":"black","tickSize":3.5,"labelColor":"black","titleColor":"black","labelFont":"DejaVu Sans","titleFont":"DejaVu Sans","labelFontSize":10,"titleFontSize":10,"titleFontWeight":"normal","labelPadding":2,"titlePadding":4},
"header":{"labelFont":"DejaVu Sans","labelColor":"black"},
"text":{"font":"DejaVu Sans"}
}
}
